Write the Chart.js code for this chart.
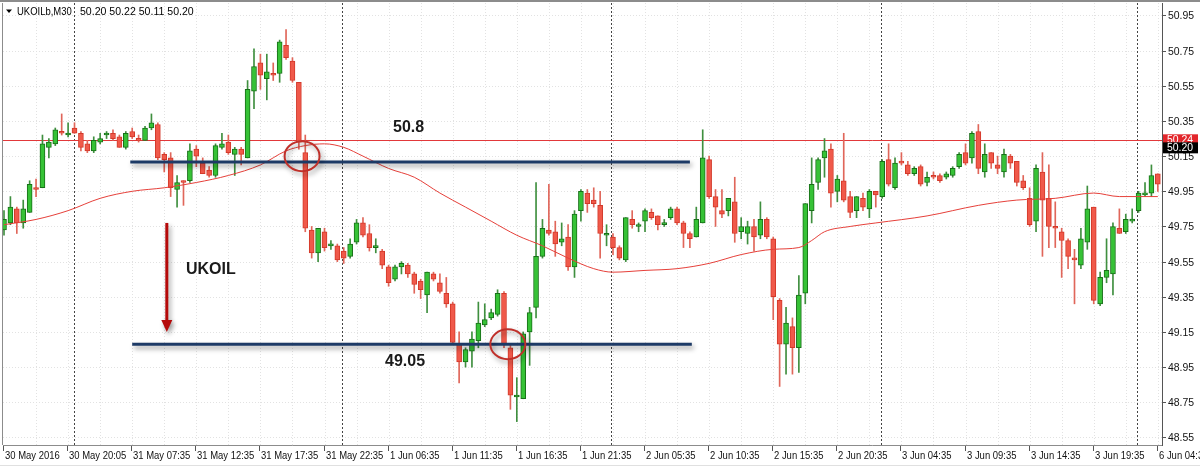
<!DOCTYPE html>
<html>
<head>
<meta charset="utf-8">
<style>
html, body { margin: 0; padding: 0; background: #fff; }
#wrap { width: 1200px; height: 467px; }
</style>
<script src="https://cdn.jsdelivr.net/npm/chart.js@4.4.0/dist/chart.umd.min.js"></script>
</head>
<body>
<div id="wrap"><canvas id="ukoilChart" width="1200" height="467"></canvas></div>
<script>
// UKOILb M30 candles, bar 0 = 30 May 2016
var opens = [
  49.73,49.77,49.85,49.77,49.83,49.97,49.97,50.20,50.22,50.29,
  50.27,50.31,50.28,50.22,50.18,50.23,50.27,50.28,50.26,50.20,
  50.29,50.25,50.24,50.31,50.33,50.16,50.14,49.96,50.01,50.01,
  50.19,50.11,50.07,50.04,50.20,50.23,50.16,50.19,50.14,50.52,
  50.68,50.59,50.62,50.62,50.78,50.69,50.57,50.17,49.73,49.60,
  49.72,49.64,49.64,49.61,49.58,49.66,49.77,49.71,49.63,49.61,
  49.52,49.45,49.52,49.53,49.48,49.44,49.36,49.48,49.43,49.37,
  49.31,49.08,48.98,49.04,49.10,49.19,49.23,49.25,49.37,49.06,
  48.78,48.77,49.15,49.29,49.58,49.73,49.72,49.66,49.69,49.52,
  49.84,49.94,49.90,49.87,49.70,49.69,49.63,49.56,49.79,49.75,
  49.78,49.83,49.81,49.76,49.80,49.85,49.77,49.71,49.69,49.77,
  50.13,49.92,49.84,49.84,49.89,49.72,49.71,49.75,49.70,49.79,
  49.68,49.33,49.08,49.18,49.06,49.37,49.84,50.00,50.14,50.19,
  49.95,50.01,49.92,49.84,49.91,49.85,49.95,49.92,50.13,49.97,
  50.12,50.10,50.05,50.09,50.00,50.04,50.04,50.03,50.04,50.09,
  50.17,50.14,50.29,50.06,50.17,50.10,50.06,50.15,50.12,50.01,
  49.91,49.78,50.06,49.91,49.75,49.72,49.67,49.57,49.53,49.66,
  49.86,49.31,49.46,49.48,49.74,49.72,49.78,49.84,49.93,49.94,
  50.05
];
var highs = [
  49.84,49.92,49.86,49.90,50.01,50.02,50.27,50.25,50.31,50.39,
  50.34,50.34,50.29,50.24,50.26,50.28,50.29,50.30,50.27,50.29,
  50.31,50.27,50.32,50.39,50.34,50.17,50.17,50.04,50.01,50.22,
  50.21,50.14,50.09,50.22,50.28,50.27,50.20,50.20,50.58,50.76,
  50.73,50.73,50.68,50.81,50.87,50.71,50.57,50.27,49.75,49.74,
  49.74,49.67,49.65,49.63,49.68,49.79,49.80,49.76,49.68,49.62,
  49.53,49.53,49.55,49.54,49.49,49.45,49.49,49.49,49.48,49.46,
  49.32,49.15,49.06,49.15,49.32,49.31,49.28,49.39,49.38,49.08,
  48.89,49.15,49.29,50.00,49.79,49.99,49.78,49.77,49.76,49.84,
  49.96,49.96,49.97,49.95,49.76,49.71,49.64,49.80,49.84,49.77,
  49.85,49.85,49.81,49.79,49.86,49.86,49.78,49.72,49.86,50.30,
  50.15,49.96,49.96,49.91,50.03,49.80,49.78,49.79,49.89,49.80,
  49.69,49.34,49.29,49.23,49.47,49.88,50.14,50.14,50.25,50.22,
  50.04,50.28,49.95,49.92,49.94,49.96,49.95,50.13,50.22,50.14,
  50.17,50.12,50.09,50.10,50.06,50.06,50.05,50.06,50.09,50.17,
  50.22,50.29,50.33,50.22,50.17,50.15,50.19,50.16,50.12,50.04,
  49.97,50.10,50.17,50.10,49.89,49.74,49.68,49.62,49.74,49.98,
  49.86,49.49,49.68,49.77,49.85,49.82,49.85,49.95,50.00,50.10,
  50.05
];
var lows = [
  49.70,49.76,49.71,49.74,49.83,49.92,49.97,50.14,50.21,50.27,
  50.26,50.28,50.18,50.17,50.17,50.22,50.25,50.24,50.20,50.19,
  50.25,50.23,50.24,50.30,50.13,50.06,49.92,49.86,49.87,50.00,
  50.09,50.05,50.03,50.03,50.19,50.16,50.04,50.10,50.14,50.42,
  50.53,50.47,50.58,50.57,50.70,50.57,50.19,49.72,49.57,49.55,
  49.61,49.62,49.55,49.54,49.57,49.65,49.69,49.61,49.60,49.51,
  49.41,49.44,49.48,49.46,49.37,49.34,49.26,49.44,49.37,49.29,
  49.08,48.86,48.95,48.95,49.06,49.18,49.22,49.24,49.06,48.71,
  48.64,48.77,48.96,49.23,49.57,49.70,49.58,49.64,49.50,49.46,
  49.78,49.83,49.86,49.57,49.64,49.59,49.56,49.55,49.74,49.72,
  49.72,49.79,49.73,49.75,49.79,49.76,49.63,49.63,49.69,49.77,
  49.91,49.75,49.80,49.81,49.66,49.68,49.65,49.61,49.68,49.68,
  49.22,48.84,48.91,48.91,48.92,49.31,49.77,49.96,50.03,49.86,
  49.89,49.89,49.80,49.80,49.84,49.80,49.86,49.91,49.98,49.96,
  50.10,50.04,50.04,49.98,49.98,50.02,50.00,50.02,50.03,50.08,
  50.10,50.11,50.05,50.03,50.08,50.05,50.03,50.08,49.98,49.96,
  49.75,49.72,49.58,49.63,49.63,49.46,49.51,49.31,49.51,49.62,
  49.31,49.30,49.43,49.36,49.71,49.71,49.77,49.83,49.92,49.92,
  49.95
];
var closes = [
  49.79,49.86,49.77,49.85,49.99,49.96,50.22,50.23,50.30,50.28,
  50.28,50.28,50.20,50.18,50.24,50.25,50.28,50.25,50.20,50.28,
  50.26,50.24,50.31,50.34,50.14,50.13,49.97,50.00,50.00,50.18,
  50.15,50.05,50.04,50.21,50.22,50.17,50.19,50.16,50.53,50.66,
  50.61,50.63,50.61,50.80,50.71,50.58,50.23,49.74,49.60,49.74,
  49.63,49.65,49.56,49.57,49.65,49.77,49.70,49.63,49.64,49.53,
  49.43,49.52,49.54,49.48,49.42,49.39,49.49,49.45,49.38,49.31,
  49.09,48.98,49.05,49.11,49.20,49.22,49.26,49.37,49.08,48.79,
  48.79,49.14,49.26,49.58,49.74,49.71,49.65,49.68,49.52,49.82,
  49.95,49.88,49.88,49.71,49.71,49.63,49.57,49.80,49.76,49.76,
  49.84,49.80,49.76,49.77,49.85,49.77,49.71,49.68,49.79,50.14,
  49.92,49.86,49.82,49.91,49.71,49.75,49.75,49.69,49.79,49.69,
  49.35,49.08,49.20,49.06,49.36,49.88,49.99,50.13,50.18,49.94,
  50.02,49.90,49.83,49.92,49.86,49.95,49.93,50.12,49.99,50.11,
  50.11,50.05,50.08,49.99,50.03,50.03,50.01,50.05,50.08,50.16,
  50.11,50.28,50.08,50.16,50.11,50.08,50.16,50.11,50.00,49.97,
  49.76,50.08,49.90,49.75,49.74,49.67,49.58,49.56,49.68,49.85,
  49.33,49.46,49.50,49.75,49.71,49.79,49.79,49.94,49.94,50.04,
  49.99
];

// red moving average, read at a few bars
var maBars = [0,5,10,15,20,25,30,35,40,44,47,50,53,56,60,64,68,72,76,80,84,88,92,95,
  100,105,110,115,120,124,126,128,132,136,144,152,158,164,170,174,180];
var maValues = [49.76,49.79,49.84,49.91,49.95,49.97,50.00,50.04,50.10,50.18,50.21,50.22,50.20,50.15,
  50.08,50.03,49.94,49.86,49.78,49.70,49.64,49.57,49.51,49.49,49.50,49.51,49.54,49.59,49.62,49.63,
  49.67,49.72,49.75,49.77,49.81,49.87,49.90,49.91,49.94,49.92,49.92];

var timeLabels = ["30 May 2016","30 May 20:05","31 May 07:35","31 May 12:35","31 May 17:35",
  "31 May 22:35","1 Jun 06:35","1 Jun 11:35","1 Jun 16:35","1 Jun 21:35","2 Jun 05:35",
  "2 Jun 10:35","2 Jun 15:35","2 Jun 20:35","3 Jun 04:35","3 Jun 09:35","3 Jun 14:35",
  "3 Jun 19:35","6 Jun 04:35"];
var priceTicks = ["48.55","48.75","48.95","49.15","49.35","49.55","49.75","49.95",
  "50.15","50.35","50.55","50.75","50.95"];
var daySeparators = [10.9, 52.7, 94.7, 136.8, 176.8];

var askPrice = 50.24;
var bidPrice = 50.20;
var upperLevel = 50.117;
var lowerLevel = 49.08;

var upCol = "#36c236", upEdge = "#186f18", upWick = "#3f8f3f";
var dnCol = "#f0594a", dnEdge = "#d3392a", dnWick = "#e0665a";

var wickData = [], bodyData = [], wickColors = [], bodyColors = [], edgeColors = [];
for (var i = 0; i < opens.length; i++) {
  var up = closes[i] >= opens[i];
  wickData.push({ x: i, y: [lows[i], highs[i]] });
  bodyData.push({ x: i, y: [opens[i], closes[i]] });
  wickColors.push(up ? upWick : dnWick);
  bodyColors.push(up ? upCol : dnCol);
  edgeColors.push(up ? upEdge : dnEdge);
}
var maData = maBars.map(function (b, k) { return { x: b, y: maValues[k] }; });

function seg(c, x1, y1, x2, y2) {
  c.beginPath(); c.moveTo(x1, y1); c.lineTo(x2, y2); c.stroke();
}
// narrow text, closer to the terminal's Tahoma look
function narrowText(c, t, x, y, squeeze) {
  c.save();
  c.translate(x, y);
  c.scale(squeeze, 1);
  c.fillText(t, 0, 0);
  c.restore();
}

var chartDecor = {
  id: "chartDecor",
  beforeDraw: function (chart) {
    var c = chart.ctx, a = chart.chartArea, xs = chart.scales.x, ys = chart.scales.y;
    c.save();
    c.fillStyle = "#fff";
    c.fillRect(0, 0, chart.width, chart.height);

    // faint grid
    c.strokeStyle = "#e2e2e2";
    c.lineWidth = 1;
    c.setLineDash([1, 2]);
    for (var b = 5; b <= 180; b += 5) {
      var px = Math.round(xs.getPixelForValue(b)) + 0.5;
      seg(c, px, a.top, px, a.bottom);
    }
    priceTicks.forEach(function (t) {
      var py = Math.round(ys.getPixelForValue(+t)) + 0.5;
      seg(c, a.left, py, a.right, py);
    });

    // day separators
    c.strokeStyle = "#444";
    c.setLineDash([2, 2]);
    daySeparators.forEach(function (d) {
      var px = Math.round(xs.getPixelForValue(d)) + 0.5;
      seg(c, px, a.top, px, a.bottom);
    });

    // ask line
    c.setLineDash([]);
    c.strokeStyle = "#e2383a";
    var ay = Math.round(ys.getPixelForValue(askPrice)) + 0.5;
    seg(c, a.left, ay, a.right, ay);
    c.restore();
  },
  afterDatasetsDraw: function (chart) {
    var c = chart.ctx, a = chart.chartArea, xs = chart.scales.x, ys = chart.scales.y;
    c.save();

    // support / resistance lines with soft shadow
    c.shadowColor = "rgba(0,0,0,0.4)";
    c.shadowBlur = 5;
    c.shadowOffsetX = 2;
    c.shadowOffsetY = 3;
    c.strokeStyle = "#1d3a66";
    c.lineWidth = 3;
    var uy = ys.getPixelForValue(upperLevel), ly = ys.getPixelForValue(lowerLevel);
    seg(c, xs.getPixelForValue(19.7), uy, xs.getPixelForValue(107), uy);
    seg(c, xs.getPixelForValue(20), ly, xs.getPixelForValue(107.3), ly);

    // circles
    c.strokeStyle = "#c0302a";
    c.lineWidth = 2;
    c.beginPath();
    c.ellipse(xs.getPixelForValue(46.5), ys.getPixelForValue(50.15), 17.5, 15, 0, 0, Math.PI * 2);
    c.stroke();
    c.beginPath();
    c.ellipse(xs.getPixelForValue(78.6), ys.getPixelForValue(49.08), 17.5, 15, 0, 0, Math.PI * 2);
    c.stroke();

    // down arrow
    var ax = xs.getPixelForValue(25.4);
    var aTop = ys.getPixelForValue(49.77), aTip = ys.getPixelForValue(49.15);
    c.strokeStyle = "#b50a0a";
    c.fillStyle = "#b50a0a";
    c.lineWidth = 3;
    seg(c, ax, aTop, ax, aTip - 10);
    c.beginPath();
    c.moveTo(ax - 5.5, aTip - 12);
    c.lineTo(ax + 5.5, aTip - 12);
    c.lineTo(ax, aTip);
    c.closePath();
    c.fill();

    c.shadowColor = "transparent";
    c.fillStyle = "#1a1a1a";
    c.font = "bold 16px 'Liberation Sans', Arial, sans-serif";
    c.textBaseline = "middle";
    c.textAlign = "left";
    c.fillText("50.8", 393, 128);
    c.fillText("49.05", 385, 362);
    c.fillText("UKOIL", 186, 270);

    // frame
    c.strokeStyle = "#8c8c8c";
    c.lineWidth = 2;
    seg(c, 0, 1, chart.width, 1);
    c.lineWidth = 1;
    seg(c, a.left - 0.5, a.top, a.left - 0.5, a.bottom);
    seg(c, a.left, a.bottom + 0.5, a.right, a.bottom + 0.5);
    c.strokeStyle = "#555";
    seg(c, a.right + 0.5, a.top, a.right + 0.5, a.bottom + 1);
    c.strokeStyle = "#e0e0e0";
    seg(c, 0, 465.5, chart.width, 465.5);

    // y axis ticks + labels
    c.fillStyle = "#111";
    c.strokeStyle = "#555";
    c.font = "11px 'Liberation Sans', Arial, sans-serif";
    priceTicks.forEach(function (t) {
      var py = Math.round(ys.getPixelForValue(+t)) + 0.5;
      seg(c, a.right, py, a.right + 4, py);
      narrowText(c, t, a.right + 6, py, 0.95);
    });

    // x axis ticks + labels
    c.font = "11px 'Liberation Sans', Arial, sans-serif";
    timeLabels.forEach(function (t, k) {
      var px = Math.round(xs.getPixelForValue(k * 10)) - 0.5;
      seg(c, px, a.bottom + 1, px, a.bottom + 6);
      narrowText(c, t, px + 1.5, 455.5, 0.86);
    });

    // price boxes on the axis
    var askY = ys.getPixelForValue(askPrice), bidY = ys.getPixelForValue(bidPrice);
    c.fillStyle = "#e3262b";
    c.fillRect(a.right + 1, askY - 6, 35, 11);
    c.fillStyle = "#fff";
    narrowText(c, askPrice.toFixed(2), a.right + 5, askY, 0.95);
    c.fillStyle = "#000";
    c.fillRect(a.right + 1, bidY - 5, 35, 11);
    c.fillStyle = "#fff";
    narrowText(c, bidPrice.toFixed(2), a.right + 5, bidY + 0.5, 0.95);

    // header
    c.fillStyle = "#000";
    c.beginPath();
    c.moveTo(6, 9.5); c.lineTo(12, 9.5); c.lineTo(9, 13);
    c.closePath();
    c.fill();
    c.font = "11px 'Liberation Sans', Arial, sans-serif";
    narrowText(c, "UKOILb,M30", 17, 12, 0.86);
    narrowText(c, "50.20 50.22 50.11 50.20", 80, 12, 0.96);
    c.restore();
  }
};

var ctx = document.getElementById("ukoilChart").getContext("2d");

new Chart(ctx, {
  type: "bar",
  data: {
    datasets: [{
      type: "line",
      data: maData,
      borderColor: "#e6403a",
      borderWidth: 1,
      pointRadius: 0,
      cubicInterpolationMode: "monotone",
      fill: false
    }, {
      data: bodyData,
      backgroundColor: bodyColors,
      borderColor: edgeColors,
      borderWidth: 1,
      borderSkipped: false,
      barThickness: 5,
      minBarLength: 2,
      grouped: false
    }, {
      data: wickData,
      backgroundColor: wickColors,
      borderWidth: 0,
      barThickness: 1,
      grouped: false
    }]
  },
  options: {
    responsive: false,
    animation: false,
    devicePixelRatio: 1,
    layout: { padding: { left: 3, top: 3, right: 0, bottom: 0 } },
    plugins: { legend: { display: false }, tooltip: { enabled: false } },
    scales: {
      x: {
        type: "linear",
        offset: false,
        bounds: "data",
        min: -0.156,
        max: 180.65,
        grid: { display: false, offset: false },
        border: { display: false },
        ticks: { display: false },
        afterFit: function (s) { s.height = 22; }
      },
      y: {
        position: "right",
        min: 48.507,
        max: 51.021,
        grid: { display: false },
        border: { display: false },
        ticks: { display: false },
        afterFit: function (s) { s.width = 38; }
      }
    }
  },
  plugins: [chartDecor]
});
</script>
</body>
</html>
